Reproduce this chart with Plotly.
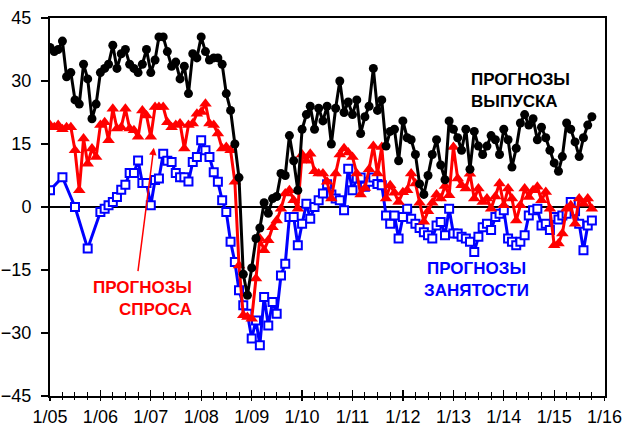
import plotly.graph_objects as go
import pandas as pd

months = pd.date_range("2005-01-01", periods=130, freq="MS")

# Production expectations (black)
output_exp = [
    38, 37, 37.5, 39.5, 31, 32, 25.5, 24.5, 34, 30.5,
    21, 24.5, 32, 33, 34, 38.5, 33, 36.5, 37.5, 34,
    33, 32, 34, 37.5, 32, 35, 40.5, 40.5, 37, 33.5,
    34.5, 30.5, 33.5, 27, 36.5, 35.5, 40.5, 37, 35, 35.5,
    35.5, 34, 27, 23, 15, 7, -16, -21, -14.5, -7.5,
    -5, 1, -1.5, 2, 2.5, 8, 7.5, 17, 11, 4,
    18.5, 22, 24, 18.5, 23.5, 20.5, 24, 15, 23.5, 30,
    22.5, 25, 22, 25.5, 17.5, 21.5, 24, 33, 23, 25.5,
    14.5, 18, 18.5, 11, 20.5, 16.5, 16, 12.5, 5.5, 3,
    7.5, 12.5, 16, 10, 6.5, 20.5, 18.5, 16.5, 13.5, 18.5,
    9, 18, 14.5, 12.5, 14.5, 17, 16, 12.5, 18.5, 16,
    9.5, 14, 20, 22, 19.5, 21, 16, 19, 16.5, 13.5,
    10.5, 8.5, 12, 20, 18.5, 15.5, 12, 16.5, 19.5, 21.5,
]

# Demand expectations (red)
demand_exp = [
    19.5, 19, 19.5, 18.5, 19, 19, 13.5, 4, 16.3, 10.3,
    13.9, 11.9, 19.5, 20.2, 15.9, 23.4, 18.7, 19, 23.4, 18.7,
    18.3, 16.7, 23, 21.8, 16.7, 23.8, 23.8, 23.8, 20.2, 19,
    19.5, 19.9, 13.9, 19.5, 19.9, 22.2, 22.6, 24.6, 19.9, 19.5,
    17.5, 13.9, 14.3, 13.5, 6, -13.9, -25.8, -26.2, -26.6, -17,
    -7.5, -10.3, -7.9, -4.8, -3.2, -0.4, 3.2, 4, 1.6, -0.4,
    12.5, 11, 12.7, 8.5, 8, 8, 6, 2, 8, 12.5,
    14, 13, 11.9, 8, 3, 4.5, 9, 14.5, 8, 14.3,
    2, 5.2, 3.4, 1.2, 3.5, 4, 8, 5.6, 1, -3.5,
    -1, 1, 3, 2, 5, 2.8, 14.3, 6.8, 5.2, 4.4,
    7.9, 2, 4.4, 1.2, 2, -0.4, 2.5, 5.6, 0.4, 4.4,
    2, -3.2, 0.4, 4.4, 2.4, 4, 4.8, 1.6, 3.6, -0.4,
    -9.1, -8.7, -6.3, -0.4, 0.4, -4, 2, 0.8, 2, -0.4,
]

# Employment expectations (blue); quarterly in 2005
N = None
employ_exp = [
    4, N, N, 7.1, N, N, 0, N, N, -9.9,
    N, N, -1.2, -0.4, 0.4, 1.2, 2.4, 4.1, 5.3, 8.1,
    8.1, 11.1, 5.7, 5.7, 0.4, 6.4, 6.8, 12.7, 11, 10.7,
    8.1, 7.1, 7.1, 6.1, 10.7, 11.9, 15.9, 13.5, 11.9, 8.3,
    6, 1.6, -1.2, -8.3, -13.1, -19.8, -23.4, -25.4, -31.3, -27,
    -32.9, -21.4, -28.2, -22.6, -25.4, -16.3, -13.5, -2.4, -2.4, -9.1,
    -4, 0.8, -2.8, 0, 1.6, 3.2, 5.4, 3, 2, 1.6,
    -0.8, 9.1, 4, 6.8, 7, 4.8, 6, 7, 5.5, 5.2,
    -2, -4, -2, -7.5, -2.4, -0.4, -2.8, -4, -5, -6,
    -6.7, -7.5, -4.4, -3.6, -6.7, -0.4, -6.3, -6.3, -7.1, -7.5,
    -8.3, -10.7, -7.1, -4.8, -4, -5.5, -2.4, -1.6, -0.8, -7.5,
    -8.3, -9.1, -8.3, -6.7, -2, -0.8, -0.4, -4.4, -4, -5.5,
    -2.4, -3, -2, -1.6, 1.2, -1, -4, -10.3, -4.4, -3.2,
]

FONT = "Liberation Sans, Arial, sans-serif"

fig = go.Figure()
fig.add_trace(go.Scatter(
    x=months, y=employ_exp, mode="lines+markers", connectgaps=True,
    line=dict(color="#0000FF", width=3),
    marker=dict(symbol="square", size=8, color="white",
                line=dict(color="#0000FF", width=2)),
))
fig.add_trace(go.Scatter(
    x=months, y=demand_exp, mode="lines+markers",
    line=dict(color="#FF0000", width=3),
    marker=dict(symbol="triangle-up", size=11, color="#FF0000"),
))
fig.add_trace(go.Scatter(
    x=months, y=output_exp, mode="lines+markers",
    line=dict(color="black", width=3),
    marker=dict(symbol="circle", size=9, color="black"),
))
# carrier for the secondary (inside-tick) x axis, nothing visible
fig.add_trace(go.Scatter(x=months[:1], y=[None], xaxis="x2", mode="lines",
                         hoverinfo="skip", showlegend=False))

xr = ["2005-01-01", "2016-01-04"]
fig.update_layout(
    width=622, height=428,
    margin=dict(l=50, r=17, t=18, b=32, autoexpand=False),
    plot_bgcolor="white", paper_bgcolor="white",
    showlegend=False,
    font=dict(family=FONT, size=18, color="black"),
    xaxis=dict(
        type="date", range=xr, tickformat="%-m/%y", dtick="M12",
        tick0="2005-01-01", ticks="outside", ticklen=3, tickwidth=1.3,
        tickcolor="black", showline=True, linecolor="black", linewidth=2,
        mirror=True, showgrid=False, zeroline=False, automargin=False,
        ticklabeloverflow="allow",
        tickfont=dict(size=18, family=FONT),
        minor=dict(dtick="M3", tick0="2005-01-01", ticks="outside",
                   ticklen=2, tickcolor="black", tickwidth=1, showgrid=False),
    ),
    xaxis2=dict(
        type="date", range=xr, overlaying="x", anchor="y", side="bottom",
        dtick="M12", tick0="2005-01-01", ticks="inside", ticklen=6,
        tickwidth=1.3, tickcolor="black", showticklabels=False,
        showline=False, showgrid=False, zeroline=False, automargin=False,
        minor=dict(dtick="M3", tick0="2005-01-01", ticks="inside",
                   ticklen=4, tickcolor="black", tickwidth=1, showgrid=False),
    ),
    yaxis=dict(
        range=[-45, 45], dtick=15, tick0=-45, ticks="outside", ticklen=7,
        tickcolor="black", tickwidth=1.3, showline=True, linecolor="black",
        linewidth=2, mirror=True, showgrid=False, automargin=False,
        zeroline=True, zerolinecolor="black", zerolinewidth=1.5,
        tickfont=dict(size=18, family=FONT), ticklabelstandoff=6,
    ),
)

def label(text, x, y, color, xanchor, align):
    fig.add_annotation(text=text, x=x, y=y, xref="paper", yref="paper",
                       xanchor=xanchor, yanchor="middle", showarrow=False,
                       align=align,
                       font=dict(family=FONT, size=17, color=color))

label("<b>ПРОГНОЗЫ<br>ВЫПУСКА</b>", 0.755, 0.807, "black", "left", "left")
label("<b>ПРОГНОЗЫ<br>ЗАНЯТОСТИ</b>", 0.768, 0.308, "#0000FF", "center", "center")
label("<b>ПРОГНОЗЫ<br>СПРОСА</b>", 0.260, 0.257, "#FF0000", "right", "right")

fig.add_annotation(
    x=0.187, y=0.657, xref="paper", yref="paper",
    ax=-16, ay=125, axref="pixel", ayref="pixel",
    showarrow=True, arrowhead=2, arrowsize=1, arrowwidth=1.5,
    arrowcolor="#FF0000", text="",
)

fig.write_html(
    "out.html",
    config={"displayModeBar": False, "staticPlot": True},
    post_script="document.body.style.margin='0';document.body.style.padding='0';",
)
